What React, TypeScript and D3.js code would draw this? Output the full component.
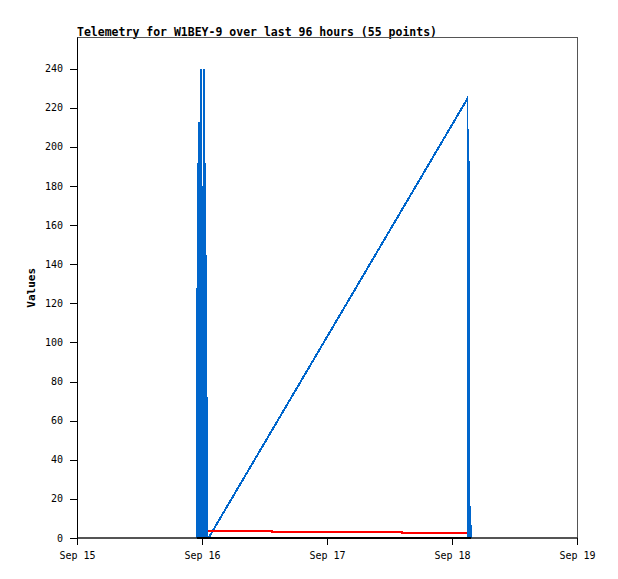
import React from "react";
import * as d3 from "d3";

// hours since Sep 15 00:00
const blueHours = [22.94, 22.97, 23.04, 23.12, 23.2, 23.3, 23.38, 23.45, 23.55, 23.68, 23.8, 23.96, 24.08, 24.25, 24.38, 24.46, 24.54, 24.62, 24.72, 24.82, 24.95, 25.15, 74.88, 74.92, 75.1, 75.15, 75.3, 75.35, 75.45, 75.5];
const blueValues = [0, 128, 0, 192, 0, 213, 0, 192, 0, 240, 0, 180, 0, 240, 0, 192, 0, 145, 0, 72, 0, 0, 224.8, 0, 193, 0, 16.4, 0, 8.3, 0];
const redHours = [25.06, 37.38, 37.42, 62.34, 62.38, 74.75];
const redValues = [3.7, 3.7, 3.1, 3.1, 2.6, 2.6];
const blackHours = [22.9, 75.6];
const blackValues = [0, 0];
const xTickHours = [0, 24, 48, 72, 96];
const xTickLabels = ["Sep 15", "Sep 16", "Sep 17", "Sep 18", "Sep 19"];
const yTicks = [0, 20, 40, 60, 80, 100, 120, 140, 160, 180, 200, 220, 240];
const title = "Telemetry for W1BEY-9 over last 96 hours (55 points)";

export default function App() {
  const W = 618, H = 579;
  const left = 77.5, right = 577.5, top = 37.5, bottom = 538;
  const x = d3.scaleLinear().domain([0, 96]).range([left, right]);
  const y = d3.scaleLinear().domain([0, 256]).range([bottom, top]);
  const line = d3.line<[number, number]>().x(d => x(d[0])).y(d => y(d[1]));
  const zip = (a: number[], b: number[]) => a.map((h, i) => [h, b[i]] as [number, number]);
  const mono = "'DejaVu Sans Mono', monospace";
  return (
    <svg width={W} height={H} style={{ position: "absolute", left: 0, top: 0, background: "#fff" }}>
      <rect x={0} y={0} width={W} height={H} fill="#fff" />
      <text x={77} y={35.5} fontFamily={mono} fontWeight="bold" fontSize={11.5} fill="#000">{title}</text>
      <rect x={left} y={top} width={right - left} height={bottom - top} fill="none" stroke="#555" strokeWidth={1} />
      <path d={line(zip(blueHours, blueValues)) || ""} fill="none" stroke="#0066cc" strokeWidth={2} shapeRendering="crispEdges" />
      <path d={line(zip(redHours, redValues)) || ""} fill="none" stroke="#ff0000" strokeWidth={2} shapeRendering="crispEdges" />
      <path d={line(zip(blackHours, blackValues)) || ""} fill="none" stroke="#000" strokeWidth={2} shapeRendering="crispEdges" />
      <line x1={left} x2={right} y1={bottom} y2={bottom} stroke="#000" strokeWidth={1} />
      <line x1={left} x2={left} y1={top} y2={bottom} stroke="#000" strokeWidth={1} />
      {yTicks.map(t => (
        <g key={t}>
          <line x1={70} x2={left} y1={Math.round(y(t)) + 0.5} y2={Math.round(y(t)) + 0.5} stroke="#000" />
          <text x={63} y={y(t) + 3.5} textAnchor="end" fontFamily={mono} fontSize={10} fill="#000">{t}</text>
        </g>
      ))}
      {xTickHours.map((h, i) => (
        <g key={h}>
          <line x1={x(h)} x2={x(h)} y1={bottom} y2={bottom + 7} stroke="#000" />
          <text x={x(h)} y={559} textAnchor="middle" fontFamily={mono} fontSize={10} fill="#000">{xTickLabels[i]}</text>
        </g>
      ))}
      <text transform={`translate(35,${(top + bottom) / 2}) rotate(-90)`} textAnchor="middle" fontFamily={mono} fontWeight="bold" fontSize={11} fill="#000">Values</text>
    </svg>
  );
}
